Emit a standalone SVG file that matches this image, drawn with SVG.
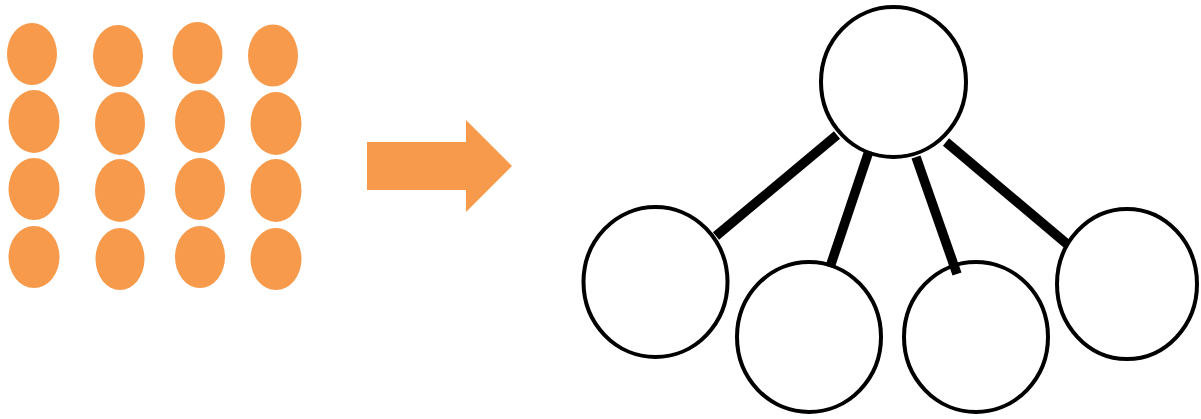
<svg xmlns="http://www.w3.org/2000/svg" width="1201" height="419" viewBox="0 0 1201 419">
<style>
.dot{fill:#F79A4B}
.node{fill:#fff;stroke:#000;stroke-width:4}
.edge{stroke:#000;stroke-width:9.5;stroke-linecap:butt}
</style>
<rect width="1201" height="419" fill="#fff"/>
<g id="dots">
<ellipse class="dot" cx="32" cy="54" rx="25" ry="31"/>
<ellipse class="dot" cx="118" cy="56" rx="25" ry="31"/>
<ellipse class="dot" cx="197.5" cy="53" rx="25" ry="31"/>
<ellipse class="dot" cx="273" cy="55.5" rx="25" ry="31"/>
<ellipse class="dot" cx="34" cy="121.5" rx="25.5" ry="31.5"/>
<ellipse class="dot" cx="120" cy="123.5" rx="25" ry="31.5"/>
<ellipse class="dot" cx="200" cy="121.5" rx="25" ry="31.5"/>
<ellipse class="dot" cx="276" cy="123.5" rx="25.5" ry="31.5"/>
<ellipse class="dot" cx="34" cy="189" rx="25.5" ry="31"/>
<ellipse class="dot" cx="120" cy="190.5" rx="25" ry="31.5"/>
<ellipse class="dot" cx="200" cy="189" rx="25" ry="31"/>
<ellipse class="dot" cx="276" cy="190.5" rx="25.5" ry="31.5"/>
<ellipse class="dot" cx="34" cy="257" rx="25.5" ry="31"/>
<ellipse class="dot" cx="120" cy="259" rx="24.5" ry="31"/>
<ellipse class="dot" cx="200" cy="257" rx="25" ry="31"/>
<ellipse class="dot" cx="276" cy="259" rx="25.5" ry="31"/>
</g>
<g id="arrow">
<polygon class="dot" points="367,142 466,142 466,120 512,166 466,212 466,190 367,190"/>
</g>
<g id="root"><ellipse class="node" cx="893.5" cy="82" rx="72.5" ry="75"/></g>
<g id="child1"><ellipse class="node" cx="655.5" cy="282" rx="72" ry="75"/></g>
<g id="child2"><ellipse class="node" cx="809" cy="337" rx="72" ry="75"/></g>
<g id="child3"><ellipse class="node" cx="976" cy="337" rx="72" ry="75"/></g>
<g id="child4"><ellipse class="node" cx="1127" cy="284" rx="70" ry="75"/></g>
<g id="connectors">
<line class="edge" x1="837" y1="135" x2="716" y2="236"/>
<line class="edge" x1="869" y1="151" x2="830" y2="267"/>
<line class="edge" x1="916" y1="157" x2="957" y2="274"/>
<line class="edge" x1="946" y1="142" x2="1067" y2="244"/>
</g>
</svg>
